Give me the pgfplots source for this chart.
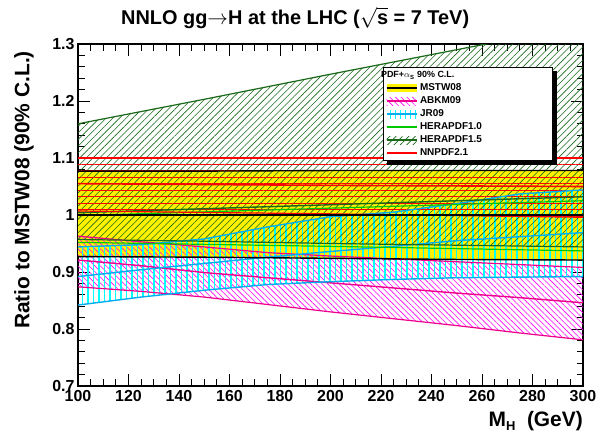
\documentclass[border=0pt]{standalone}
\usepackage{fontspec}
\setmainfont{Liberation Sans}
\usepackage{pgfplots}
\usepackage{pgfplotstable}
\pgfplotsset{compat=1.18}
\usepgfplotslibrary{fillbetween}
\usetikzlibrary{patterns.meta}
\definecolor{hgreen}{RGB}{25,105,25}
\definecolor{lgreen}{RGB}{0,200,0}

\pgfplotstableread{
x lo c hi
100 0.927 1.000 1.077
150 0.926 1.000 1.077
200 0.924 1.000 1.078
250 0.922 1.000 1.078
300 0.921 1.000 1.078
}\mstw
\pgfplotstableread{
x lo c hi
100 0.874 0.921 0.963
125 0.866 0.911 0.953
150 0.856 0.899 0.944
175 0.843 0.890 0.934
200 0.830 0.881 0.928
225 0.818 0.872 0.923
250 0.806 0.863 0.918
275 0.793 0.855 0.913
300 0.781 0.846 0.908
}\abkm
\pgfplotstableread{
x lo c hi
100 0.842 0.892 0.944
125 0.856 0.904 0.948
150 0.868 0.915 0.958
175 0.878 0.926 0.979
200 0.883 0.936 0.997
225 0.887 0.945 1.005
250 0.890 0.955 1.020
275 0.891 0.962 1.037
300 0.892 0.969 1.044
}\jr
\pgfplotstableread{
x lo c hi
100 0.957 1.004 1.160
150 0.954 1.011 1.203
200 0.950 1.018 1.247
250 0.947 1.025 1.290
300 0.944 1.032 1.333
}\herab
\pgfplotstableread{
x lo c
100 0.952 0.999
200 0.945 1.012
300 0.937 1.025
}\heraa
\pgfplotstableread{
x lo c hi
100 1.007 1.055 1.100
200 1.002 1.052 1.100
300 0.996 1.050 1.100
}\nnpdf

\begin{document}
\begin{tikzpicture}
\begin{axis}[
  at={(0,0)}, anchor=south west,
  scale only axis, width=505bp, height=342bp,
  xmin=100, xmax=300, ymin=0.7, ymax=1.3,
  axis line style={line width=1.7bp},
  every tick/.style={black, line width=1bp},
  tick align=inside,
  major tick length=12bp, minor tick length=6.5bp,
  xtick={100,120,...,300}, minor x tick num=3,
  ytick={0.7,0.8,0.9,1,1.1,1.2,1.3},
  yticklabels={0.7,0.8,0.9,1,1.1,1.2,1.3},
  minor y tick num=4,
  /pgf/number format/assume math mode=true,
  ticklabel style={font=\bfseries\fontsize{16}{16}\selectfont},
  xticklabel style={yshift=-1bp},
  title={NNLO gg$\rightarrow$H at the LHC ($\sqrt{\textbf{s}}$ = 7 TeV)},
  title style={at={(axis description cs:0.43,1)}, anchor=base, yshift=14bp, inner sep=0pt, font=\bfseries\fontsize{20}{20}\selectfont},
  xlabel={M\raisebox{-4bp}{\fontsize{13}{13}\selectfont H}\ \ (GeV)},
  xlabel style={at={(axis description cs:1,0)}, anchor=north east, yshift=-25bp, inner sep=0pt, font=\bfseries\fontsize{21}{21}\selectfont},
  ylabel={Ratio to MSTW08 (90\% C.L.)},
  ylabel style={at={(axis description cs:0,0.573)}, anchor=center, yshift=54bp, inner sep=0pt, font=\bfseries\fontsize{21}{21}\selectfont},
  legend style={name=leg, at={(axis description cs:0.604,0.933)}, anchor=north west,
    draw=black, line width=1bp, fill=white,
    font=\bfseries\fontsize{10}{10}\selectfont,
    inner xsep=2bp, inner ysep=1.5bp, row sep=0.5bp,
    nodes={inner ysep=1bp, inner xsep=2.5bp, text height=8bp, text depth=2.5bp}},
  legend cell align=left,
]
% legend images
\addlegendimage{empty legend}
\addlegendimage{legend image code/.code={\fill[yellow, draw=none] (0bp,-4bp) rectangle (30bp,4bp); \draw[black,line width=2bp] (0bp,0bp)--(30bp,0bp);}}
\addlegendimage{legend image code/.code={\path[draw=none, pattern={Lines[angle=-45,distance=4bp,line width=0.6bp]}, pattern color=magenta] (0bp,-4bp) rectangle (30bp,4bp); \draw[magenta,line width=1.8bp] (0bp,0bp)--(30bp,0bp);}}
\addlegendimage{legend image code/.code={\path[draw=none, pattern={Lines[angle=90,distance=5bp,line width=1bp]}, pattern color=cyan] (0bp,-4bp) rectangle (30bp,4bp); \draw[cyan,line width=1.8bp] (0bp,0bp)--(30bp,0bp);}}
\addlegendimage{legend image code/.code={\draw[lgreen,line width=1.8bp] (0bp,0bp)--(30bp,0bp);}}
\addlegendimage{legend image code/.code={\path[draw=none, pattern={Lines[angle=45,distance=4.5bp,line width=0.7bp]}, pattern color=hgreen] (0bp,-4bp) rectangle (30bp,4bp); \draw[hgreen,line width=1.8bp] (0bp,0bp)--(30bp,0bp);}}
\addlegendimage{legend image code/.code={\draw[red,line width=1.8bp] (0bp,0bp)--(30bp,0bp);}}

% named boundaries
\addplot[name path=mlo, draw=none, forget plot] table[x=x,y=lo]{\mstw};
\addplot[name path=mhi, draw=none, forget plot] table[x=x,y=hi]{\mstw};
\addplot[name path=alo, draw=none, forget plot] table[x=x,y=lo]{\abkm};
\addplot[name path=ahi, draw=none, forget plot] table[x=x,y=hi]{\abkm};
\addplot[name path=jlo, draw=none, forget plot] table[x=x,y=lo]{\jr};
\addplot[name path=jhi, draw=none, forget plot] table[x=x,y=hi]{\jr};
\addplot[name path=hlo, draw=none, forget plot] table[x=x,y=lo]{\herab};
\addplot[name path=hhi, draw=none, forget plot] table[x=x,y=hi]{\herab};
\addplot[name path=nlo, draw=none, forget plot] table[x=x,y=lo]{\nnpdf};
\addplot[name path=nhi, draw=none, forget plot] table[x=x,y=hi]{\nnpdf};

% fills
\addplot[fill=yellow, draw=none, forget plot] fill between[of=mlo and mhi];
\addplot[pattern={Lines[angle=-45,distance=4bp,line width=0.6bp]}, pattern color=magenta, draw=none, forget plot] fill between[of=alo and ahi];
\addplot[pattern={Lines[angle=90,distance=5.5bp,line width=1.1bp]}, pattern color=cyan, draw=none, forget plot] fill between[of=jlo and jhi];
\addplot[pattern={Lines[angle=45,distance=4.7bp,line width=0.6bp]}, pattern color=hgreen, draw=none, forget plot] fill between[of=hlo and hhi];
\addplot[pattern={Lines[angle=0,distance=6.5bp,line width=0.9bp]}, pattern color=red, draw=none, forget plot] fill between[of=nlo and nhi];

% lines
\addplot[magenta, line width=1.2bp, forget plot] table[x=x,y=lo]{\abkm};
\addplot[magenta, line width=1.4bp, forget plot] table[x=x,y=c]{\abkm};
\addplot[magenta, line width=1.2bp, forget plot] table[x=x,y=hi]{\abkm};
\addplot[cyan, line width=1.4bp, forget plot] table[x=x,y=lo]{\jr};
\addplot[cyan, line width=1.4bp, forget plot] table[x=x,y=c]{\jr};
\addplot[cyan, line width=1.4bp, forget plot] table[x=x,y=hi]{\jr};
\addplot[hgreen, line width=1.2bp, forget plot] table[x=x,y=lo]{\herab};
\addplot[hgreen, line width=1.4bp, forget plot] table[x=x,y=c]{\herab};
\addplot[hgreen, line width=1.2bp, forget plot] table[x=x,y=hi]{\herab};
\addplot[lgreen, line width=1.2bp, forget plot] table[x=x,y=lo]{\heraa};
\addplot[lgreen, line width=1.2bp, forget plot] table[x=x,y=c]{\heraa};
\addplot[red, line width=1.2bp, forget plot] table[x=x,y=lo]{\nnpdf};
\addplot[red, line width=1.6bp, forget plot] table[x=x,y=c]{\nnpdf};
\addplot[red, line width=1.2bp, forget plot] table[x=x,y=hi]{\nnpdf};
\addplot[black, line width=1.4bp, forget plot] table[x=x,y=lo]{\mstw};
\addplot[black, line width=1.6bp, forget plot] table[x=x,y=c]{\mstw};
\addplot[black, line width=1.4bp, forget plot] table[x=x,y=hi]{\mstw};

\legend{\makebox[128bp][l]{\hspace*{-39bp}\fontsize{9}{9}\selectfont PDF+$\alpha$\textsubscript{S} 90\% C.L.}, MSTW08, ABKM09, JR09, HERAPDF1.0, HERAPDF1.5, NNPDF2.1}
\end{axis}
% legend drop shadow (right and bottom strips)
\fill[black] ([yshift=-4bp]leg.north east) rectangle ([xshift=4bp,yshift=-4bp]leg.south east);
\fill[black] ([xshift=4bp]leg.south west) rectangle ([xshift=4bp,yshift=-4bp]leg.south east);
\pgfresetboundingbox
\useasboundingbox (-78bp,-51bp) rectangle (521bp,386bp);
\end{tikzpicture}
\end{document}
